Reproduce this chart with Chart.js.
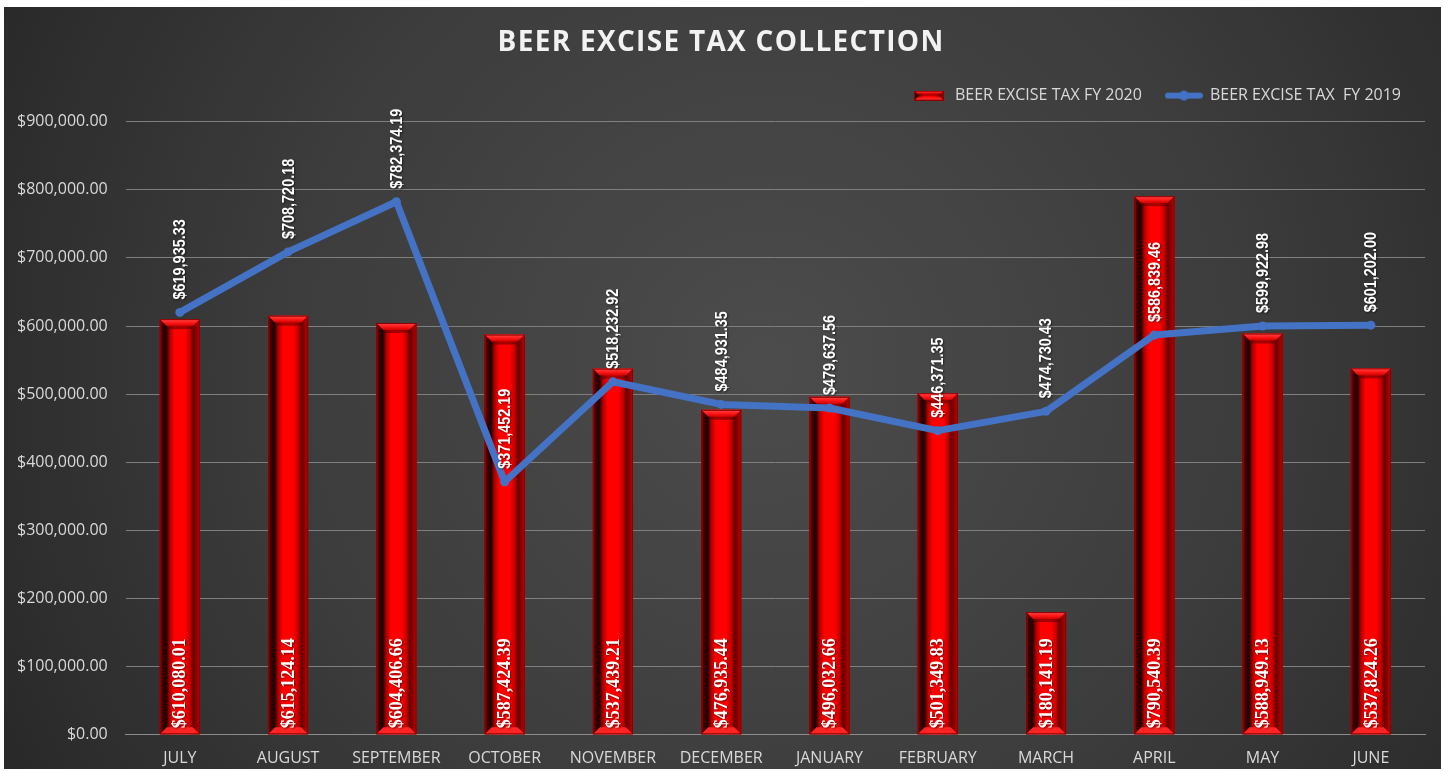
<!DOCTYPE html>
<html>
<head>
<meta charset="utf-8">
<title>Beer Excise Tax Collection</title>
<script src="https://cdn.jsdelivr.net/npm/chart.js@4.4.1/dist/chart.umd.min.js"></script>
<style>
  html, body { margin: 0; padding: 0; background: #fff; }
  #wrap { position: absolute; left: 4px; top: 7px; width: 1437px; height: 762px; }
</style>
</head>
<body>
<div id="wrap"><canvas id="beerTax"></canvas></div>
<script>
const months = ["JULY", "AUGUST", "SEPTEMBER", "OCTOBER", "NOVEMBER", "DECEMBER",
  "JANUARY", "FEBRUARY", "MARCH", "APRIL", "MAY", "JUNE"];
const fy2020 = [610080.01, 615124.14, 604406.66, 587424.39, 537439.21, 476935.44,
  496032.66, 501349.83, 180141.19, 790540.39, 588949.13, 537824.26];
const fy2019 = [619935.33, 708720.18, 782374.19, 371452.19, 518232.92, 484931.35,
  479637.56, 446371.35, 474730.43, 586839.46, 599922.98, 601202.00];
const yMax = 900000;
const yStep = 100000;

const money = (v) => "$" + v.toLocaleString("en-US", { minimumFractionDigits: 2, maximumFractionDigits: 2 });

// red bar with bevelled edges
function drawBevel(c, L, T, R, B) {
  const w = R - L, h = B - T;
  const b = Math.max(2, Math.min(7, w / 5, h / 3));
  c.save();
  // front face
  let g = c.createLinearGradient(L + b, 0, R - b, 0);
  g.addColorStop(0, "#3a0000");
  g.addColorStop(0.12, "#b00000");
  g.addColorStop(0.3, "#ff0000");
  g.addColorStop(0.7, "#ff0000");
  g.addColorStop(0.9, "#c00000");
  g.addColorStop(1, "#700000");
  c.fillStyle = g;
  c.fillRect(L, T, w, h);

  // left side
  c.beginPath();
  c.moveTo(L, T); c.lineTo(L + b, T + b); c.lineTo(L + b, B - b); c.lineTo(L, B); c.closePath();
  g = c.createLinearGradient(L, 0, L + b, 0);
  g.addColorStop(0, "#c00000"); g.addColorStop(0.35, "#400000"); g.addColorStop(1, "#1a0000");
  c.fillStyle = g; c.fill();
  // right side
  c.beginPath();
  c.moveTo(R, T); c.lineTo(R - b, T + b); c.lineTo(R - b, B - b); c.lineTo(R, B); c.closePath();
  g = c.createLinearGradient(R - b, 0, R, 0);
  g.addColorStop(0, "#600000"); g.addColorStop(0.6, "#9a0000"); g.addColorStop(1, "#c80000");
  c.fillStyle = g; c.fill();
  // top
  c.beginPath();
  c.moveTo(L, T); c.lineTo(R, T); c.lineTo(R - b, T + b); c.lineTo(L + b, T + b); c.closePath();
  g = c.createLinearGradient(0, T, 0, T + b);
  g.addColorStop(0, "#ff4a4a"); g.addColorStop(0.5, "#ff1a1a"); g.addColorStop(1, "#d00000");
  c.fillStyle = g; c.fill();
  c.fillStyle = "rgba(90,0,0,0.55)";
  c.fillRect(L + b, T + b, w - 2 * b, Math.min(3, h / 6));
  // bottom
  c.beginPath();
  c.moveTo(L, B); c.lineTo(R, B); c.lineTo(R - b, B - b); c.lineTo(L + b, B - b); c.closePath();
  c.fillStyle = "#ff2424"; c.fill();

  c.strokeStyle = "#8a0000";
  c.lineWidth = 1;
  c.strokeRect(L + 0.5, T + 0.5, w - 1, h - 1);
  c.restore();
}

function barIcon() {
  const c = document.createElement("canvas");
  c.width = 30; c.height = 10;
  drawBevel(c.getContext("2d"), 0, 0, 30, 10);
  return c;
}

function lineIcon() {
  const c = document.createElement("canvas");
  c.width = 38; c.height = 12;
  const x = c.getContext("2d");
  x.strokeStyle = "#4472c4"; x.lineWidth = 6; x.lineCap = "round";
  x.beginPath(); x.moveTo(3, 6); x.lineTo(35, 6); x.stroke();
  x.fillStyle = "#4472c4";
  x.beginPath(); x.arc(19, 6, 5, 0, Math.PI * 2); x.fill();
  return c;
}

const background = {
  id: "background",
  beforeDraw(chart) {
    const { ctx, width, height } = chart;
    const g = ctx.createRadialGradient(width * 0.53, height * 0.47, 0, width * 0.53, height * 0.47, width * 0.62);
    g.addColorStop(0, "#4c4c4c");
    g.addColorStop(0.55, "#3c3c3c");
    g.addColorStop(1, "#272727");
    ctx.save();
    ctx.fillStyle = g;
    ctx.fillRect(0, 0, width, height);
    ctx.restore();
  }
};

const bevelBars = {
  id: "bevelBars",
  afterDatasetDraw(chart, args) {
    if (args.index !== 0) return;
    const ctx = chart.ctx;
    args.meta.data.forEach((el) => {
      const L = el.x - el.width / 2, R = el.x + el.width / 2;
      drawBevel(ctx, L, Math.min(el.y, el.base), R, Math.max(el.y, el.base));
    });
  }
};

const valueLabels = {
  id: "valueLabels",
  afterDatasetsDraw(chart) {
    const ctx = chart.ctx;
    ctx.save();
    ctx.fillStyle = "#ffffff";
    ctx.textAlign = "left";
    ctx.textBaseline = "middle";
    ctx.shadowColor = "rgba(0,0,0,0.55)";
    ctx.shadowBlur = 2;
    ctx.shadowOffsetX = 1;
    ctx.shadowOffsetY = 1;

    // bar values, from the base upwards
    ctx.font = "bold 18px 'Liberation Serif', 'DejaVu Serif', serif";
    chart.getDatasetMeta(0).data.forEach((el, i) => {
      ctx.save();
      ctx.translate(el.x + 1, el.base - 6);
      ctx.rotate(-Math.PI / 2);
      ctx.fillText(money(fy2020[i]), 0, 0);
      ctx.restore();
    });

    // line values, above each point (narrowed)
    ctx.font = "bold 16px 'Liberation Sans Narrow', 'Liberation Sans', sans-serif";
    chart.getDatasetMeta(1).data.forEach((el, i) => {
      ctx.save();
      ctx.translate(el.x + 1, el.y - 13);
      ctx.rotate(-Math.PI / 2);
      ctx.scale(0.9, 1);
      ctx.fillText(money(fy2019[i]), 0, 0);
      ctx.restore();
    });
    ctx.restore();
  }
};

// extra room between legend and plot, spaced-out title
const layoutTweaks = {
  id: "layoutTweaks",
  beforeInit(chart) {
    const fit = chart.legend.fit;
    chart.legend.fit = function () {
      fit.bind(chart.legend)();
      this.height += 8;
    };
  },
  afterInit(chart) {
    const tb = chart.titleBlock;
    const draw = tb.draw.bind(tb);
    tb.draw = function () {
      const c = chart.ctx;
      const prev = c.letterSpacing;
      c.letterSpacing = "1.3px";
      draw();
      c.letterSpacing = prev;
    };
  }
};

new Chart(document.getElementById("beerTax"), {
  type: "bar",
  data: {
    labels: months,
    datasets: [
      {
        label: "BEER EXCISE TAX FY 2020",
        data: fy2020,
        backgroundColor: "#e00000",
        barPercentage: 0.37,
        categoryPercentage: 1,
        order: 2,
      },
      {
        type: "line",
        label: "BEER EXCISE TAX  FY 2019",
        data: fy2019,
        borderColor: "#4472c4",
        backgroundColor: "#4472c4",
        borderWidth: 7,
        borderCapStyle: "round",
        borderJoinStyle: "round",
        pointRadius: 4.5,
        pointBorderWidth: 0,
        pointHoverRadius: 4.5,
        tension: 0,
        order: 1,
      },
    ],
  },
  options: {
    responsive: true,
    maintainAspectRatio: false,
    animation: false,
    devicePixelRatio: 1,
    layout: { padding: { left: 13, right: 16, top: 0, bottom: 1 } },
    plugins: {
      title: {
        display: true,
        text: "BEER EXCISE TAX COLLECTION",
        color: "#f2f2f2",
        font: { family: "'Open Sans', sans-serif", size: 28, weight: "bold" },
        padding: { top: 19, bottom: 4 },
      },
      legend: {
        position: "top",
        align: "end",
        labels: {
          color: "#d9d9d9",
          font: { family: "'Open Sans', sans-serif", size: 16 },
          usePointStyle: true,
          pointStyleWidth: 36,
          padding: 24,
          sort: (a, b) => a.datasetIndex - b.datasetIndex,
          generateLabels(chart) {
            const items = Chart.defaults.plugins.legend.labels.generateLabels(chart);
            items.forEach((it) => {
              it.pointStyle = it.datasetIndex === 0 ? barIcon() : lineIcon();
            });
            return items;
          },
        },
      },
      tooltip: { enabled: false },
    },
    scales: {
      x: {
        grid: { display: false, drawTicks: false },
        border: { color: "#8c8c8c", width: 1 },
        ticks: {
          color: "#d9d9d9",
          padding: 14,
          font: { family: "'Open Sans', sans-serif", size: 16 },
        },
        afterFit: (s) => { s.height -= 14; },
      },
      y: {
        min: 0,
        max: yMax,
        grid: { color: "#7f7f7f", lineWidth: 1, drawTicks: false },
        border: { display: false },
        ticks: {
          stepSize: yStep,
          color: "#d9d9d9",
          padding: 18,
          font: { family: "'Open Sans', sans-serif", size: 16 },
          callback: (v) => money(v),
        },
        afterFit: (s) => { s.width -= 18; },
      },
    },
  },
  plugins: [background, bevelBars, valueLabels, layoutTweaks],
});
</script>
</body>
</html>
